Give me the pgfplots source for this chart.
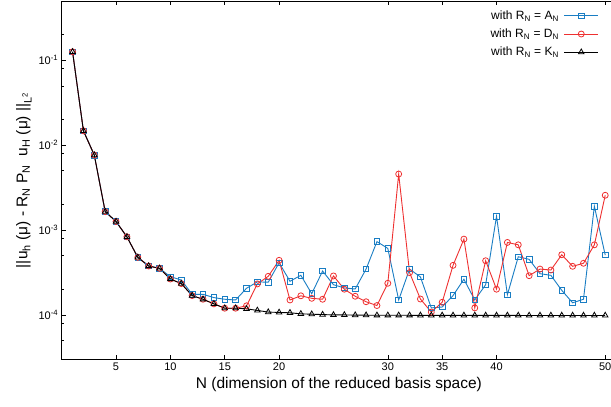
\documentclass[border=0pt]{standalone}
\usepackage{pgfplots}
\pgfplotsset{compat=1.18}
\usepackage{pgfplotstable}
\usepackage{fontspec}
\setmainfont{Liberation Sans}
\definecolor{cA}{RGB}{25,125,195}
\definecolor{cD}{RGB}{238,48,48}

\pgfplotstableread{
N v
1 0.126
2 0.01475
3 0.00764
4 0.00165
5 0.00126
6 0.000832
7 0.000477
8 0.000377
9 0.000354
10 0.000282
11 0.000258
12 0.000175
13 0.000175
14 0.00016
15 0.000153
16 0.00015
17 0.000206
18 0.000245
19 0.000243
20 0.000412
21 0.000249
22 0.000293
23 0.000178
24 0.000329
25 0.000227
26 0.000208
27 0.000202
28 0.000347
29 0.000731
30 0.000608
31 0.000150
32 0.000347
33 0.000280
34 0.000121
35 0.000124
36 0.000169
37 0.000263
38 0.000150
39 0.000227
40 0.001456
41 0.000173
42 0.000485
43 0.000452
44 0.000306
45 0.000293
46 0.000195
47 0.000139
48 0.000153
49 0.00191
50 0.000507
}\tA

\pgfplotstableread{
N v
1 0.126
2 0.01475
3 0.00764
4 0.00165
5 0.00126
6 0.000832
7 0.000477
8 0.000377
9 0.000354
10 0.000265
11 0.000234
12 0.000169
13 0.000153
14 0.000135
15 0.00012
16 0.00012
17 0.000128
18 0.000232
19 0.000285
20 0.00044
21 0.00015
22 0.000168
23 0.000157
24 0.000153
25 0.000288
26 0.000201
27 0.000166
28 0.000143
29 0.000129
30 0.000236
31 0.00457
32 0.000315
33 0.000154
34 0.000108
35 0.000141
36 0.000384
37 0.000782
38 0.000121
39 0.000435
40 0.000201
41 0.000715
42 0.00067
43 0.00029
44 0.000347
45 0.000338
46 0.000512
47 0.000374
48 0.000406
49 0.00067
50 0.00257
}\tD

\pgfplotstableread{
N v
1 0.126
2 0.01475
3 0.00764
4 0.00165
5 0.00126
6 0.000832
7 0.000477
8 0.000377
9 0.000354
10 0.000265
11 0.000234
12 0.000169
13 0.000153
14 0.000135
15 0.00012
16 0.00012
17 0.000118
18 0.000113
19 0.000108
20 0.000107
21 0.000106
22 0.000103
23 0.000102
24 0.000101
25 0.0001
26 0.0001
27 0.0000995
28 0.0000993
29 0.000099
30 0.000099
31 0.000099
32 0.000099
33 0.0000988
34 0.0000988
35 0.0000988
36 0.0000987
37 0.0000987
38 0.0000987
39 0.0000986
40 0.0000986
41 0.0000986
42 0.0000986
43 0.0000985
44 0.0000985
45 0.0000985
46 0.0000985
47 0.0000985
48 0.0000985
49 0.0000985
50 0.0000985
}\tK

\begin{document}
\begin{tikzpicture}
\begin{semilogyaxis}[
  name=ax,
  scale only axis,
  width=554.4pt, height=358.3pt,
  xmin=0, xmax=51, ymin=3e-5, ymax=0.5,
  xtick={5,10,15,20,30,35,40,50},
  xticklabels={5,10,15,20,30,35,40,50},
  ytick={1e-4,1e-3,1e-2,1e-1},
  yticklabels={10\textsuperscript{-4},10\textsuperscript{-3},10\textsuperscript{-2},10\textsuperscript{-1}},
  minor ytick={5e-5,8e-5,2e-4,5e-4,8e-4,2e-3,5e-3,8e-3,2e-2,5e-2,8e-2,2e-1},
  minor x tick num=0,
  tick align=inside,
  major tick length=4pt, minor tick length=2.5pt,
  tick style={black, line width=0.6pt},
  axis line style={black, line width=0.8pt},
  ticklabel style={font=\fontsize{11}{13}\selectfont},
  label style={font=\fontsize{15.5}{18}\selectfont},
  xlabel={N (dimension of the reduced basis space)},
  ylabel={||u\textsubscript{h} (μ) - R\textsubscript{N} P\textsubscript{N}\ \ u\textsubscript{H} (μ) ||\textsubscript{L\textsuperscript{2}}},
  legend plot pos=right,
  legend cell align=right,
  legend style={draw=none, fill=none, at={(rel axis cs:0.969,0.979)}, anchor=north east,
    font=\fontsize{12}{13}\selectfont, row sep=4pt, column sep=3pt, inner sep=0pt},
  legend image code/.code={\draw[mark repeat=2, mark phase=2, #1] plot coordinates {(0pt,0pt) (17pt,0pt) (34pt,0pt)};},
]
\addplot[cA, line width=0.9pt, mark=square, mark size=2.8pt, mark options={solid, line width=0.8pt}] table[x=N, y=v] {\tA};
\addlegendentry{with R\textsubscript{N} = A\textsubscript{N}}
\addplot[cD, line width=0.9pt, mark=o, mark size=3pt, mark options={solid, line width=0.8pt}] table[x=N, y=v] {\tD};
\addlegendentry{with R\textsubscript{N} = D\textsubscript{N}}
\addplot[black, line width=0.9pt, mark=triangle, mark size=3.2pt, mark options={solid, line width=0.8pt}] table[x=N, y=v] {\tK};
\addlegendentry{with R\textsubscript{N} = K\textsubscript{N}}
\end{semilogyaxis}
\pgfresetboundingbox
\path[use as bounding box] ([shift={(-61.7pt,-47.7pt)}]ax.south west) rectangle ([shift={(549.3pt,359.3pt)}]ax.south west);
\end{tikzpicture}
\end{document}
